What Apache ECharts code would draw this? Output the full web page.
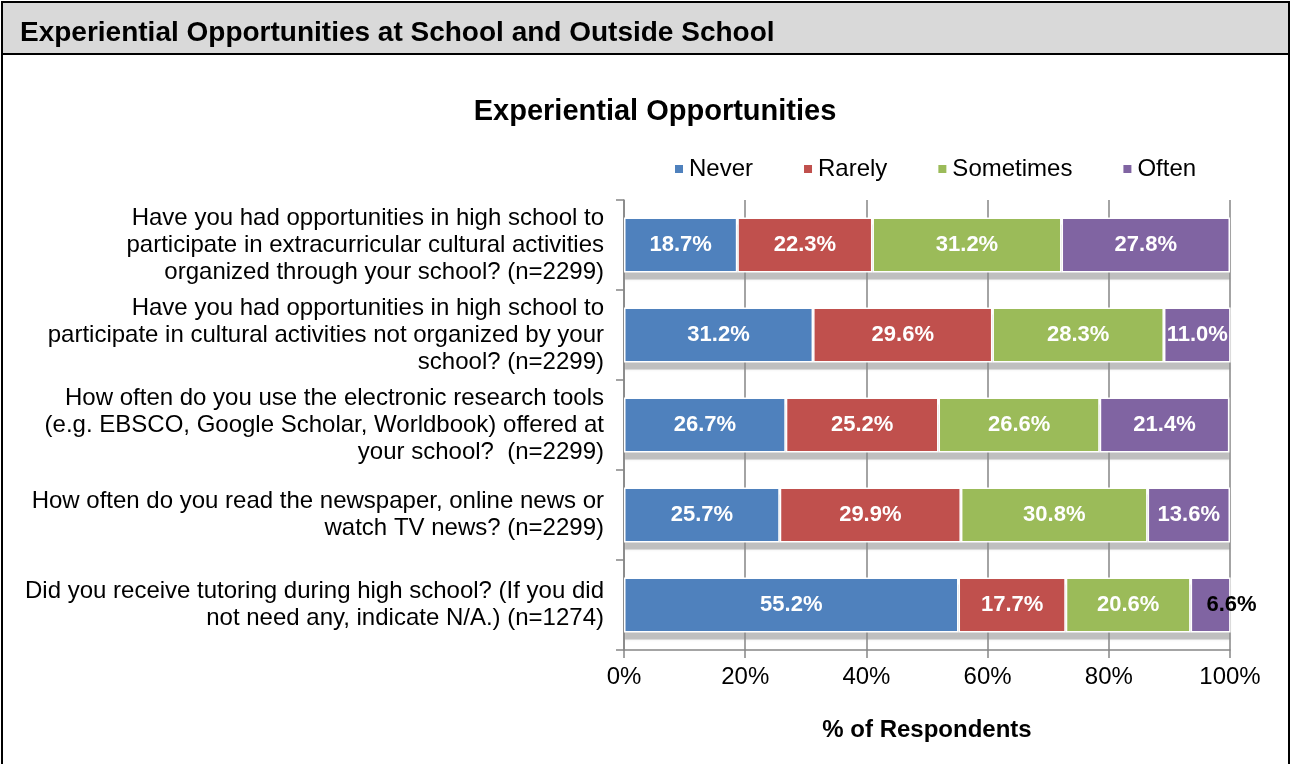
<!DOCTYPE html>
<html><head><meta charset="utf-8">
<script src="https://cdn.jsdelivr.net/npm/echarts@6/dist/echarts.min.js"></script>
<style>html,body{margin:0;padding:0;background:#fff}#c{width:1292px;height:764px}</style>
</head><body><div id="c"></div>
<script>
const categories = [
  "Have you had opportunities in high school to\nparticipate in extracurricular cultural activities\norganized through your school? (n=2299)",
  "Have you had opportunities in high school to\nparticipate in cultural activities not organized by your\nschool? (n=2299)",
  "How often do you use the electronic research tools\n(e.g. EBSCO, Google Scholar, Worldbook) offered at\nyour school?  (n=2299)",
  "How often do you read the newspaper, online news or\nwatch TV news? (n=2299)",
  "Did you receive tutoring during high school? (If you did\nnot need any, indicate N/A.) (n=1274)"
];
const never = [18.7, 31.2, 26.7, 25.7, 55.2];
const rarely = [22.3, 29.6, 25.2, 29.9, 17.7];
const sometimes = [31.2, 28.3, 26.6, 30.8, 20.6];
const often = [27.8, 11.0, 21.4, 13.6, 6.6];
const xTicks = [0, 20, 40, 60, 80, 100];

const totals = never.map((v, i) => +(v + rarely[i] + sometimes[i] + often[i]).toFixed(1));

const font = '"Liberation Sans", Arial, sans-serif';
const chart = echarts.init(document.getElementById('c'), null, {renderer: 'canvas'});
function mk(name, data, color) {
  return {
    name, type: 'bar', stack: 'all', barWidth: 55, z: 3,
    data: data.map((v, i) => {
      const d = {value: v};
      if (name === 'Often' && i === 4) {
        d.label = {color: '#000', position: 'insideRight', offset: [31, 0]};
      }
      return d;
    }),
    itemStyle: {color, borderColor: '#fff', borderWidth: 1.5},
    label: {show: true, position: 'inside', color: '#fff', fontWeight: 'bold',
      fontSize: 22, fontFamily: font, formatter: p => p.value.toFixed(1) + '%'}
  };
}
chart.setOption({
  animation: false,
  textStyle: {fontFamily: font},
  graphic: [
    {type: 'rect', shape: {x: 1, y: 1, width: 1289, height: 53}, style: {fill: '#d9d9d9', stroke: null}, z: 0},
    {type: 'rect', shape: {x: 2, y: 2, width: 1287, height: 780}, style: {fill: 'none', stroke: '#000', lineWidth: 2}, z: 10},
    {type: 'line', shape: {x1: 1, y1: 54, x2: 1290, y2: 54}, style: {stroke: '#000', lineWidth: 2}, z: 10},
    {type: 'text', left: 20, top: 19, style: {text: 'Experiential Opportunities at School and Outside School',
      font: 'bold 28px ' + font, fill: '#000'}, z: 11}
  ],
  title: {text: 'Experiential Opportunities', left: 650, textAlign: 'center', top: 92,
    textStyle: {fontSize: 29, fontWeight: 'bold', color: '#000', fontFamily: font}},
  legend: {top: 152, left: 668, itemWidth: 10, itemHeight: 10, itemGap: 49,
    icon: 'rect', textStyle: {fontSize: 24, color: '#000', fontFamily: font},
    data: ['Never', 'Rarely', 'Sometimes', 'Often']},
  grid: [
    {left: 624, right: 62, top: 200, bottom: 114, containLabel: false},
    {left: 625, right: 62, top: 207, bottom: 107, containLabel: false}
  ],
  xAxis: [{type: 'value', min: 0, max: 100, interval: 20, gridIndex: 0,
    axisLine: {show: true, lineStyle: {color: '#868686', width: 1.5}},
    axisTick: {show: true, length: 8, lineStyle: {color: '#868686', width: 1.5}},
    splitLine: {show: true, lineStyle: {color: '#868686', width: 1.5}},
    axisLabel: {formatter: v => v + '%', fontSize: 24, color: '#000', margin: 15, fontFamily: font},
    name: '% of Respondents', nameLocation: 'middle', nameGap: 68,
    nameTextStyle: {fontSize: 24, fontWeight: 'bold', color: '#000', fontFamily: font}},
    {type: 'value', min: 0, max: 100, gridIndex: 1, show: false}],
  yAxis: [{type: 'category', data: categories, inverse: true, gridIndex: 0,
    axisLine: {show: true, lineStyle: {color: '#868686', width: 1.5}},
    axisTick: {show: true, length: 8, lineStyle: {color: '#868686', width: 1.5}},
    axisLabel: {fontSize: 24, color: '#000', lineHeight: 27, margin: 20, align: 'right', fontFamily: font}},
    {type: 'category', data: categories, inverse: true, gridIndex: 1, show: false}],
  series: [
    {name: 'shadow', type: 'bar', xAxisIndex: 1, yAxisIndex: 1, barWidth: 55, z: 1,
      data: totals, silent: true, itemStyle: {color: 'rgba(140,140,140,0.45)', shadowColor: 'rgba(140,140,140,0.4)', shadowBlur: 2}},
    mk('Never', never, '#4F81BD'),
    mk('Rarely', rarely, '#C0504D'),
    mk('Sometimes', sometimes, '#9BBB59'),
    mk('Often', often, '#8064A2')
  ]
});
</script></body></html>
